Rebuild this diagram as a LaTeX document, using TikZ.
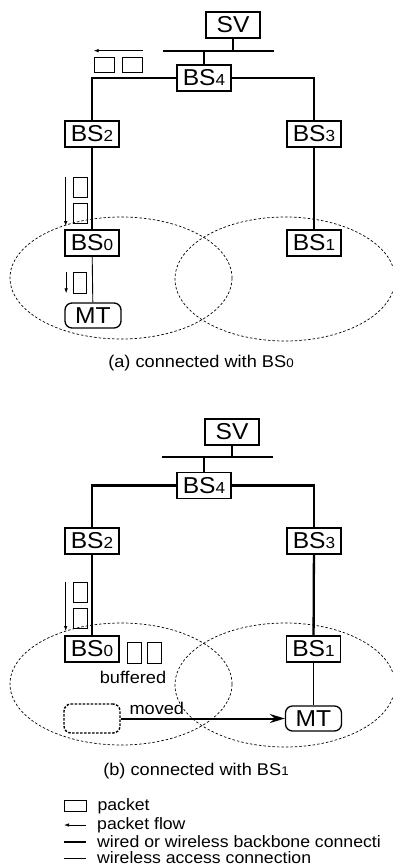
\documentclass[tikz,border=0pt]{standalone}
\usepackage{fontspec}
\setmainfont{Liberation Sans}[FakeStretch=1.07]
\usepackage{tikz}
\usetikzlibrary{arrows.meta,positioning}

\newcommand\bsname[1]{BS{\fontsize{16}{16}\selectfont #1}}
\newcommand\capname[1]{BS{\fontsize{12.5}{12.5}\selectfont #1}}

\begin{document}
\begin{tikzpicture}[
  x=1pt, y=-1pt,
  station/.style={draw, line width=1.3pt, inner sep=0pt, minimum width=54pt, minimum height=26pt, font=\fontsize{23}{23}\selectfont},
  terminal/.style={station, rounded corners=7pt, minimum width=56pt, minimum height=25pt},
  ghost/.style={terminal, dashed, dash pattern=on 2.5pt off 1.5pt, line width=1.4pt, minimum height=29pt},
  hpacket/.style={draw, line width=0.7pt, inner sep=0pt, minimum width=20pt, minimum height=15pt},
  vpacket/.style={draw, line width=0.7pt, inner sep=0pt, minimum width=14pt, minimum height=20pt},
  backbone/.style={line width=2.3pt},
  bus/.style={line width=2.8pt},
  access/.style={line width=0.9pt},
  flow/.style={-{Latex[length=5pt,width=3.5pt]}, line width=0.7pt},
  moved/.style={-{Stealth[length=15pt,width=9pt]}, line width=2pt},
  cell/.style={dashed, dash pattern=on 2.5pt off 2pt, line width=0.7pt},
  caption/.style={font=\fontsize{17}{17}\selectfont},
  legend/.style={anchor=west, inner sep=0pt, font=\fontsize{16.5}{16.5}\selectfont}
]
\useasboundingbox (0,0) rectangle (393,868);

% (a) connected with BS0
\node[station] (sva) at (233,25) {SV};
\coordinate (busla) at (163,51);
\coordinate (busra) at (274,51);
\node[station] (bs4a) at (204,78) {\bsname{4}};
\node[station] (bs2a) at (92,134) {\bsname{2}};
\node[station] (bs3a) at (314,134) {\bsname{3}};
\node[station] (bs0a) at (92,243) {\bsname{0}};
\node[station] (bs1a) at (314,243) {\bsname{1}};
\node[terminal] (mta) at (93,315.5) {MT};
\draw[bus] (busla) -- (busra);
\draw[backbone] (sva) -- (sva |- busla);
\draw[backbone] (bs4a) -- (bs4a |- busla);
\draw[backbone] (bs4a) -| (bs2a);
\draw[backbone] (bs4a) -| (bs3a);
\draw[backbone] (bs2a) -- (bs0a);
\draw[backbone] (bs3a) -- (bs1a);
\draw[access] (bs0a) -- (mta);
\node[hpacket] (pa1) at (104,64.5) {};
\node[hpacket, right=8pt of pa1] (pa2) {};
\draw[flow] ([yshift=6pt]pa2.north east) -- ([yshift=6pt]pa1.north west);
\node[vpacket] (pv1a) at (80,187) {};
\node[vpacket, below=6pt of pv1a] (pv2a) {};
\draw[flow] ([xshift=-7pt]pv1a.north west) -- ([xshift=-7pt, yshift=-2pt]pv2a.south west);
\node[vpacket, minimum width=13pt, minimum height=21pt] (pv3a) at (79.5,282.5) {};
\draw[flow] ([xshift=-6.5pt]pv3a.north west) -- ([xshift=-6.5pt]pv3a.south west);
\draw[cell] (121,278) ellipse [x radius=111pt, y radius=61pt];
\draw[cell] (285,279) ellipse [x radius=110pt, y radius=62pt];
\node[caption] (capa) at (201,363) {(a) connected with \capname{0}};

% (b) connected with BS1
\node[station] (svb) at (232,432) {SV};
\coordinate (buslb) at (162,457);
\coordinate (busrb) at (273,457);
\node[station] (bs4b) at (204,485.5) {\bsname{4}};
\node[station] (bs2b) at (92,541) {\bsname{2}};
\node[station] (bs3b) at (314,541) {\bsname{3}};
\node[station] (bs0b) at (92,649) {\bsname{0}};
\node[station] (bs1b) at (313.5,649) {\bsname{1}};
\node[terminal] (mtb) at (313.5,718.5) {MT};
\draw[bus] (buslb) -- (busrb);
\draw[backbone] (svb) -- (svb |- buslb);
\draw[backbone] (bs4b) -- (bs4b |- buslb);
\draw[backbone] (bs4b) -| (bs2b);
\draw[backbone] (bs4b) -| (bs3b);
\draw[backbone] (bs2b) -- (bs0b);
\draw[backbone] (bs3b) -- (bs1b);
\draw[access] (bs1b) -- (mtb);
\node[vpacket] (pv1b) at (80,592) {};
\node[vpacket, below=6pt of pv1b] (pv2b) {};
\draw[flow] ([xshift=-7pt]pv1b.north west) -- ([xshift=-7pt, yshift=-2pt]pv2b.south west);
\node[vpacket, minimum height=21pt] (pb1) at (134,652.5) {};
\node[vpacket, minimum height=21pt, right=6pt of pb1] (pb2) {};
\node[caption] (buf) at (133,677) {buffered};
\node[ghost] (oldmt) at (92,718.5) {};
\draw[moved] (oldmt) -- (mtb) node[caption, pos=0.22, above=0pt] {moved};
\draw[cell] (121,684) ellipse [x radius=111pt, y radius=61pt];
\draw[cell] (285,685) ellipse [x radius=110pt, y radius=62pt];
\node[caption] (capb) at (196,771) {(b) connected with \capname{1}};

% legend
\node[hpacket, minimum width=22pt, minimum height=11pt] (keypkt) at (75,806) {};
\node[legend, right=11pt of keypkt] (keypkttxt) {packet};
\coordinate (keyflowr) at (86,825);
\coordinate (keyflowl) at (64,825);
\draw[flow] (keyflowr) -- (keyflowl);
\node[legend] (keyflowtxt) at (97,825) {packet flow};
\coordinate (keybbl) at (64,842);
\coordinate (keybbr) at (86,842);
\draw[backbone] (keybbl) -- (keybbr);
\node[legend] (keybbtxt) at (97,842) {wired or wireless backbone connecti};
\coordinate (keyacl) at (64,858);
\coordinate (keyacr) at (86,858);
\draw[access] (keyacl) -- (keyacr);
\node[legend] (keyactxt) at (97,858) {wireless access connection};
\end{tikzpicture}
\end{document}
